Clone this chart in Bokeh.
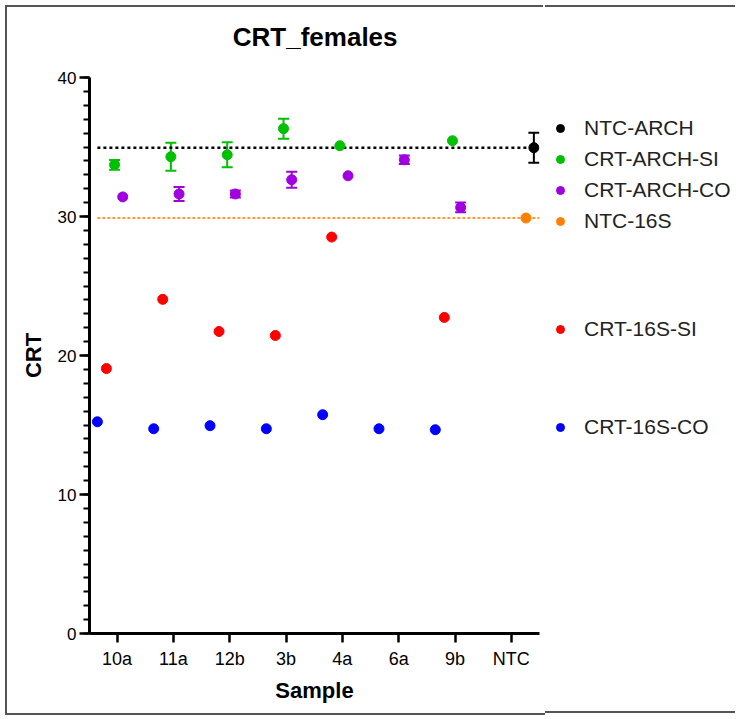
import numpy as np
from bokeh.plotting import figure
from bokeh.layouts import row, column
from bokeh.models import (Range1d, FixedTicker, Legend, LegendItem, ColumnDataSource,
                          Whisker, TeeHead)
from bokeh.core.properties import value
from bokeh.embed import file_html
from bokeh.resources import INLINE

# ---------------- data ----------------
title_text = "CRT_females"
samples = ["10a", "11a", "12b", "3b", "4a", "6a", "9b", "NTC"]
nan = float("nan")

ntc_arch_mean = [nan, nan, nan, nan, nan, nan, nan, 34.95]
ntc_arch_sd = [nan, nan, nan, nan, nan, nan, nan, 1.08]

arch_si_mean = [33.72, 34.30, 34.44, 36.32, 35.09, nan, 35.45, nan]
arch_si_sd = [0.35, 1.00, 0.90, 0.72, 0.00, nan, 0.00, nan]

arch_co_mean = [31.41, 31.62, 31.62, 32.64, 32.93, 34.08, 30.65, nan]
arch_co_sd = [0.00, 0.50, 0.25, 0.58, 0.00, 0.30, 0.35, nan]

ntc_16s_mean = [nan, nan, nan, nan, nan, nan, nan, 29.89]

s16_si_mean = [19.06, 24.04, 21.73, 21.44, 28.52, nan, 22.74, nan]

s16_co_mean = [15.23, 14.73, 14.95, 14.73, 15.74, 14.73, 14.66, nan]

y_ticks = [0, 10, 20, 30, 40]

# ---------------- styling ----------------
FONT = "Liberation Sans"
BORDER = "2px solid #555555"
series = [
    # label, means, sd, color, dodge offset
    ("NTC-ARCH", ntc_arch_mean, ntc_arch_sd, "#000000", 0.40),
    ("CRT-ARCH-SI", arch_si_mean, arch_si_sd, "#00C000", -0.045),
    ("CRT-ARCH-CO", arch_co_mean, arch_co_sd, "#A000E0", 0.10),
    ("NTC-16S", ntc_16s_mean, None, "#FF8000", 0.26),
    ("CRT-16S-SI", s16_si_mean, None, "#FF0000", -0.19),
    ("CRT-16S-CO", s16_co_mean, None, "#0000FF", -0.35),
]

PW = 82 + 448 + 8      # main canvas width
TH = 60                # title strip height

# ---------------- title strip ----------------
tf = figure(width=PW, height=TH, output_backend="svg", toolbar_location=None,
            x_range=Range1d(0, PW), y_range=Range1d(0, TH), min_border=0,
            x_axis_type=None, y_axis_type=None,
            styles={"border-left": BORDER, "border-top": BORDER})
tf.margin = (5, 0, 0, 5)
tf.xgrid.visible = False
tf.ygrid.visible = False
tf.outline_line_color = None
tf.text(x=[271], y=[TH - 29], text=[title_text], text_align="center",
        text_baseline="middle", text_font=value(FONT), text_font_size="26px",
        text_font_style="bold", text_color="#000000")

# ---------------- main plot ----------------
p = figure(frame_width=448, frame_height=554, output_backend="svg", toolbar_location=None,
           x_range=Range1d(-0.49, 7.5), y_range=Range1d(0, 40),
           min_border_left=82, min_border_right=8, min_border_top=72 - TH,
           min_border_bottom=82,
           styles={"border-left": BORDER, "border-bottom": BORDER})
p.margin = (0, 0, 0, 5)

p.xgrid.visible = False
p.ygrid.visible = False
p.outline_line_color = None

# reference lines at the NTC means
idx = np.arange(len(samples))
p.segment(x0=[-0.35], x1=[7.5], y0=[ntc_16s_mean[-1]], y1=[ntc_16s_mean[-1]],
          line_color="#FF9933", line_width=2, line_dash="3 2")
p.segment(x0=[-0.35], x1=[7.5], y0=[ntc_arch_mean[-1]], y1=[ntc_arch_mean[-1]],
          line_color="#000000", line_width=2.5, line_dash="3 3")

for label, means, sd, color, off in series:
    m = np.array(means, dtype=float)
    x = idx + off
    ok = ~np.isnan(m)
    src = ColumnDataSource(dict(x=x[ok], y=m[ok]))
    if sd is not None:
        s = np.array(sd, dtype=float)
        okw = ok & (s > 0)
        wsrc = ColumnDataSource(dict(x=x[okw], up=(m + s)[okw], lo=(m - s)[okw]))
        w = Whisker(source=wsrc, base="x", upper="up", lower="lo", dimension="height",
                    line_color=color, line_width=2,
                    upper_head=TeeHead(size=11, line_color=color, line_width=2),
                    lower_head=TeeHead(size=11, line_color=color, line_width=2))
        p.add_layout(w)
    p.scatter("x", "y", source=src, size=10, color=color, line_color=color)

# axes
p.yaxis.ticker = FixedTicker(ticks=y_ticks, minor_ticks=list(range(0, 41)))
p.xaxis.ticker = FixedTicker(ticks=list(idx))
p.xaxis.major_label_overrides = {int(i): s for i, s in enumerate(samples)}
for ax in (p.xaxis[0], p.yaxis[0]):
    ax.axis_line_width = 3
    ax.axis_line_color = "#000000"
    ax.major_tick_line_width = 2.5
    ax.major_tick_line_color = "#000000"
    ax.minor_tick_line_width = 2
    ax.minor_tick_line_color = "#000000"
    ax.major_label_text_font = FONT
    ax.major_label_text_color = "#000000"
    ax.axis_label_text_font = FONT
    ax.axis_label_text_font_style = "bold"
    ax.axis_label_text_color = "#000000"
    ax.axis_label_text_font_size = "22px"

p.yaxis.major_tick_out = 10
p.yaxis.major_tick_in = 0
p.yaxis.minor_tick_out = 6
p.yaxis.minor_tick_in = 0
p.yaxis.major_label_text_font_size = "17px"
p.yaxis.major_label_standoff = 3
p.yaxis.axis_label = "CRT"
p.yaxis.axis_label_standoff = 9

p.xaxis.major_tick_out = 9
p.xaxis.major_tick_in = 0
p.xaxis.minor_tick_out = 0
p.xaxis.minor_tick_in = 0
p.xaxis.major_label_text_font_size = "18px"
p.xaxis.major_label_standoff = 6
p.xaxis.axis_label = "Sample"
p.xaxis.axis_label_standoff = 6

# ---------------- legend panel ----------------
LW, LH = 190, 708
lf = figure(width=LW, height=LH, output_backend="svg", toolbar_location=None,
            x_range=Range1d(0, LW), y_range=Range1d(0, LH),
            min_border=0, x_axis_type=None, y_axis_type=None,
            styles={"border-top": BORDER, "border-bottom": BORDER})
lf.margin = (5, 0, 0, 0)
lf.xgrid.visible = False
lf.ygrid.visible = False
lf.outline_line_color = None

# legend proxies (kept outside the visible range; only their legend glyphs show)
legend_renderers = {}
for label, means, sd, color, off in series:
    legend_renderers[label] = lf.scatter(x=[-100], y=[-100], size=10, color=color,
                                         line_color=color)


def make_legend(labels, loc):
    items = [LegendItem(label=l, renderers=[legend_renderers[l]]) for l in labels]
    lg = Legend(items=items, location=loc, padding=0, margin=0, spacing=1,
                glyph_width=20, glyph_height=30, label_height=30, label_standoff=14,
                label_text_font=FONT, label_text_font_size="21px",
                label_text_color="#222222", background_fill_alpha=0,
                border_line_alpha=0)
    lf.add_layout(lg, "center")


make_legend(["NTC-ARCH", "CRT-ARCH-SI", "CRT-ARCH-CO", "NTC-16S"], (5, 479))
make_legend(["CRT-16S-SI"], (5, 371))
make_legend(["CRT-16S-CO"], (5, 273))

layout = row(column(tf, p, spacing=0), lf, spacing=0)
open("out.html", "w").write(file_html(layout, INLINE))
